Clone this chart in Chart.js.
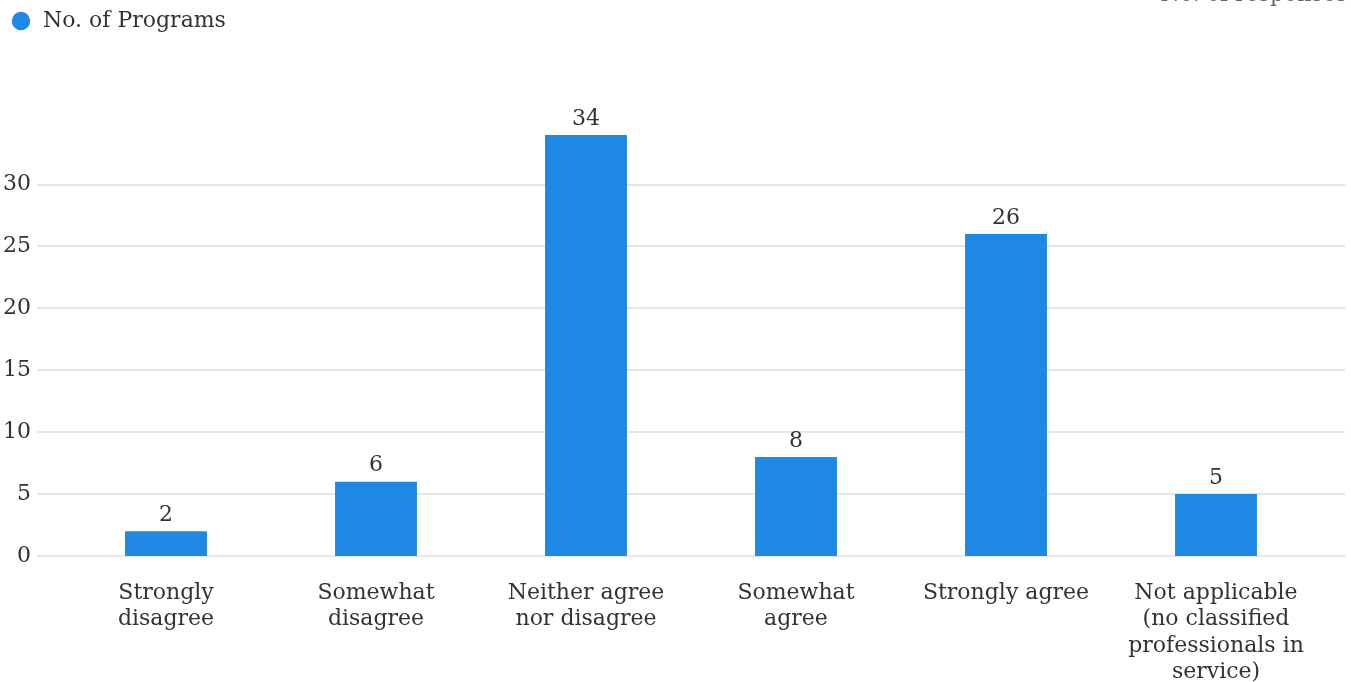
<!DOCTYPE html>
<html>
<head>
<meta charset="utf-8">
<script src="https://cdn.jsdelivr.net/npm/chart.js@4"></script>
<style>
  body { margin: 0; background: #fff; }
  #wrap { width: 1351px; height: 682px; position: relative; }
</style>
</head>
<body>
<div id="wrap"><canvas id="chart"></canvas></div>
<script>
const categories = [
  ['Strongly', 'disagree'],
  ['Somewhat', 'disagree'],
  ['Neither agree', 'nor disagree'],
  ['Somewhat', 'agree'],
  ['Strongly agree'],
  ['Not applicable', '(no classified', 'professionals in', 'service)'],
];
const programs = [2, 6, 34, 8, 26, 5];
const yTicks = [0, 5, 10, 15, 20, 25, 30];

const FONT = "'DejaVu Serif', serif";
const TEXT = '#333';

// legend sits high, chart area starts lower
const legendGap = {
  id: 'legendGap',
  beforeInit(chart) {
    const fit = chart.legend.fit;
    chart.legend.fit = function () {
      fit.bind(chart.legend)();
      this.height += 93;
    };
  },
};

// long gridlines running past the plot area
const wideGrid = {
  id: 'wideGrid',
  beforeDatasetsDraw(chart) {
    const ctx = chart.ctx;
    const y = chart.scales.y;
    ctx.save();
    ctx.strokeStyle = '#e6e6e6';
    ctx.lineWidth = 2;
    y.ticks.forEach((t) => {
      const py = Math.round(y.getPixelForValue(t.value));
      ctx.beginPath();
      ctx.moveTo(37, py);
      ctx.lineTo(1345, py);
      ctx.stroke();
    });
    ctx.restore();
  },
};

// value labels over the bars
const valueLabels = {
  id: 'valueLabels',
  afterDatasetsDraw(chart) {
    const ctx = chart.ctx;
    const meta = chart.getDatasetMeta(0);
    ctx.save();
    ctx.font = '22px ' + FONT;
    ctx.fillStyle = TEXT;
    ctx.textAlign = 'center';
    ctx.textBaseline = 'bottom';
    meta.data.forEach((bar, i) => {
      ctx.fillText(String(programs[i]), bar.x, bar.y - 5);
    });
    // clipped caption in the top right corner
    ctx.fillStyle = '#666';
    ctx.textAlign = 'right';
    ctx.textBaseline = 'alphabetic';
    ctx.fillText('No. of responses', 1347, 1);
    ctx.restore();
  },
};

new Chart('chart', {
  type: 'bar',
  data: {
    labels: categories,
    datasets: [{
      label: 'No. of Programs',
      data: programs,
      backgroundColor: '#1e88e5',
      borderWidth: 0,
      categoryPercentage: 1,
      barPercentage: 0.39,
    }],
  },
  options: {
    responsive: true,
    maintainAspectRatio: false,
    animation: false,
    layout: { padding: { left: 0, right: 30, top: 0, bottom: 0 } },
    plugins: {
      legend: {
        align: 'start',
        labels: {
          usePointStyle: true,
          pointStyle: 'circle',
          boxWidth: 22,
          boxHeight: 13,
          padding: 10,
          color: TEXT,
          font: { family: FONT, size: 22 },
        },
      },
      tooltip: { enabled: false },
    },
    scales: {
      x: {
        grid: { display: false, drawTicks: false },
        border: { display: false },
        afterFit: (s) => { s.height = 126; },
        ticks: {
          color: TEXT,
          padding: 24,
          maxRotation: 0,
          autoSkip: false,
          font: { family: FONT, size: 22, lineHeight: 1.2 },
        },
      },
      y: {
        min: 0,
        max: 34,
        grid: { display: false, drawTicks: false },
        border: { display: false },
        afterFit: (s) => { s.width = 61; },
        afterBuildTicks: (s) => {
          s.ticks = yTicks.map((v) => ({ value: v }));
        },
        ticks: {
          color: TEXT,
          padding: 30,
          font: { family: FONT, size: 22 },
        },
      },
    },
  },
  plugins: [legendGap, wideGrid, valueLabels],
});
</script>
</body>
</html>
